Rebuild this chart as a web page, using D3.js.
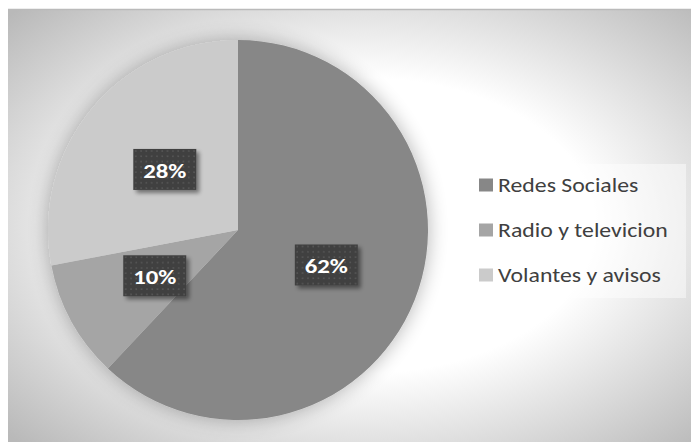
<!DOCTYPE html>
<html>
<head>
<meta charset="utf-8">
<script src="https://cdn.jsdelivr.net/npm/d3@7"></script>
<style>
  html, body { margin: 0; padding: 0; background: #ffffff; }
  svg { display: block; }
</style>
</head>
<body>
<div id="chart"></div>
<script>
// Medios de difusión: share of each channel
const categories = ["Redes Sociales", "Radio y televicion", "Volantes y avisos"];
const values = [62, 10, 28];
const labels = ["62%", "10%", "28%"];
const colors = ["#878787", "#a5a5a5", "#cbcbcb"];

const W = 691, H = 442;
const FONT = "Carlito, Lato, 'Open Sans', sans-serif";
const STRETCH_LEGEND = 1.22; // text is drawn slightly widened
const STRETCH_LABEL = 1.18;

const svg = d3.select("#chart").append("svg")
  .attr("width", W).attr("height", H);

const defs = svg.append("defs");

// Background: radial light-to-gray fill of the chart area
const bg = defs.append("radialGradient")
  .attr("id", "bgGrad")
  .attr("cx", 0.52).attr("cy", 0.5).attr("r", 0.71);
bg.append("stop").attr("offset", 0).attr("stop-color", "#ffffff");
bg.append("stop").attr("offset", 0.48).attr("stop-color", "#ffffff");
bg.append("stop").attr("offset", 1).attr("stop-color", "#b9b9b9");

// Soft halo under the pie
const pieShadow = defs.append("filter").attr("id", "pieShadow")
  .attr("x", "-20%").attr("y", "-20%").attr("width", "140%").attr("height", "140%");
pieShadow.append("feGaussianBlur").attr("in", "SourceAlpha").attr("stdDeviation", 10).attr("result", "b");
pieShadow.append("feComponentTransfer").attr("in", "b").attr("result", "s")
  .append("feFuncA").attr("type", "linear").attr("slope", 0.3);
const pm = pieShadow.append("feMerge");
pm.append("feMergeNode").attr("in", "s");
pm.append("feMergeNode").attr("in", "SourceGraphic");

// Drop shadow for the value boxes
const boxShadow = defs.append("filter").attr("id", "boxShadow")
  .attr("x", "-30%").attr("y", "-30%").attr("width", "160%").attr("height", "160%");
boxShadow.append("feGaussianBlur").attr("in", "SourceAlpha").attr("stdDeviation", 2).attr("result", "b");
boxShadow.append("feOffset").attr("in", "b").attr("dx", 3).attr("dy", 3).attr("result", "o");
boxShadow.append("feComponentTransfer").attr("in", "o").attr("result", "s")
  .append("feFuncA").attr("type", "linear").attr("slope", 0.45);
const bm = boxShadow.append("feMerge");
bm.append("feMergeNode").attr("in", "s");
bm.append("feMergeNode").attr("in", "SourceGraphic");

// Dotted texture of the value boxes
const pat = defs.append("pattern").attr("id", "dots")
  .attr("patternUnits", "userSpaceOnUse")
  .attr("width", 5.3).attr("height", 5.3);
pat.append("rect").attr("width", 5.3).attr("height", 5.3).attr("fill", "#404040");
pat.append("rect").attr("x", 2).attr("y", 2).attr("width", 1.6).attr("height", 1.6).attr("fill", "#575757");

// Chart area
const area = { x: 8, y: 9, w: W - 8, h: H - 9 };
svg.append("rect")
  .attr("x", area.x).attr("y", area.y)
  .attr("width", area.w).attr("height", area.h)
  .attr("fill", "url(#bgGrad)");
svg.append("line")
  .attr("x1", area.x).attr("x2", W)
  .attr("y1", area.y + 0.5).attr("y2", area.y + 0.5)
  .attr("stroke", "#bababa").attr("stroke-width", 1.5);

// Pie
const cx = 238, cy = 230, R = 190;
const pie = d3.pie().sort(null).value(d => d);
const arcs = pie(values);
const arc = d3.arc().innerRadius(0).outerRadius(R);

const g = svg.append("g").attr("transform", `translate(${cx},${cy})`);
g.append("g").attr("filter", "url(#pieShadow)")
  .selectAll("path").data(arcs).join("path")
  .attr("d", arc)
  .attr("fill", (d, i) => colors[i]);

// Value labels in dark boxes at the slice centroids
const boxW = 63, boxH = 41;
const lg = g.selectAll("g.lbl").data(arcs).join("g")
  .attr("class", "lbl")
  .attr("transform", d => {
    const [x, y] = arc.centroid(d);
    return `translate(${x},${y})`;
  });
lg.append("rect")
  .attr("x", -boxW / 2).attr("y", -boxH / 2)
  .attr("width", boxW).attr("height", boxH)
  .attr("fill", "url(#dots)")
  .attr("filter", "url(#boxShadow)");
lg.append("text")
  .attr("text-anchor", "middle")
  .attr("dominant-baseline", "central")
  .attr("transform", `translate(0,1) scale(${STRETCH_LABEL},1)`)
  .attr("fill", "#ffffff")
  .attr("font-family", FONT)
  .attr("font-weight", "bold")
  .attr("font-size", 21)
  .text((d, i) => labels[i]);

// Legend
const legend = svg.append("g");
legend.append("rect")
  .attr("x", 466).attr("y", 164).attr("width", 220).attr("height", 134)
  .attr("fill", "#ffffff").attr("fill-opacity", 0.45);
const rowY = d3.scalePoint().domain(categories).range([185, 275]);
const items = legend.selectAll("g.item").data(categories).join("g")
  .attr("class", "item")
  .attr("transform", d => `translate(479,${rowY(d)})`);
items.append("rect")
  .attr("x", 0).attr("y", -6.5).attr("width", 14).attr("height", 13)
  .attr("fill", (d, i) => colors[i]);
items.append("text")
  .attr("dominant-baseline", "central")
  .attr("transform", `translate(19,0) scale(${STRETCH_LEGEND},1)`)
  .attr("fill", "#404040")
  .attr("font-family", FONT)
  .attr("font-size", 19.5)
  .text(d => d);
</script>
</body>
</html>
